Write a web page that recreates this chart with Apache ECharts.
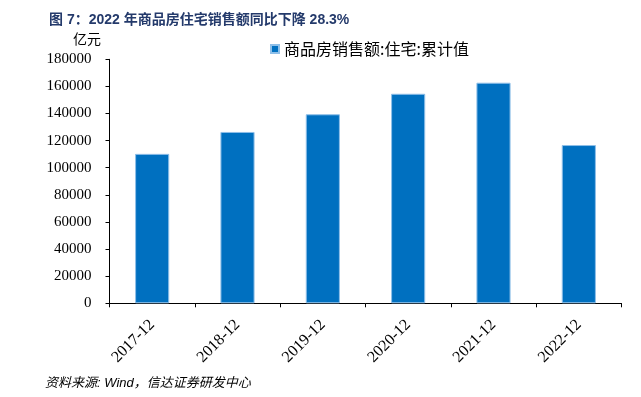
<!DOCTYPE html>
<html>
<head>
<meta charset="utf-8">
<script src="https://cdn.jsdelivr.net/npm/echarts@6/dist/echarts.min.js"></script>
<style>
html, body { margin: 0; padding: 0; background: #fff; }
#main { width: 641px; height: 397px; }
</style>
</head>
<body>
<div id="main"></div>
<script>
// 商品房销售额:住宅:累计值 (亿元)
let years = ['2017-12', '2018-12', '2019-12', '2020-12', '2021-12', '2022-12'];
let sales = [110239, 126393, 139440, 154567, 162730, 116747];
let yTicks = [0, 180000, 20000]; // min, max, interval

let chart = echarts.init(document.getElementById('main'), null, {renderer: 'canvas'});
let option = {
    animation: false,
    backgroundColor: '#fff',
    title: {
        text: '图 7：2022 年商品房住宅销售额同比下降 28.3%',
        left: 44,
        top: 8,
        textStyle: {
            color: '#243a6b',
            fontSize: 14,
            fontWeight: 'bold',
            fontFamily: 'Liberation Sans, Noto Sans CJK SC'
        }
    },
    graphic: [
        {
            type: 'text',
            left: 73,
            top: 32,
            style: {
                text: '亿元',
                fill: '#000',
                font: '14px "Noto Sans CJK SC"'
            }
        },
        {
            type: 'text',
            left: 45,
            top: 377,
            style: {
                text: '资料来源: Wind，信达证券研发中心',
                fill: '#000',
                font: 'italic 13px "Liberation Sans", "Noto Sans CJK SC"'
            }
        }
    ],
    legend: {
        left: 265,
        top: 36,
        itemWidth: 8,
        itemHeight: 8,
        icon: 'rect',
        textStyle: {
            fontSize: 16,
            color: '#000',
            fontFamily: 'Noto Sans CJK SC'
        },
        data: ['商品房销售额:住宅:累计值']
    },
    grid: {
        left: 109.5,
        right: 19.5,
        top: 59.3,
        bottom: 93.7,
        containLabel: false
    },
    xAxis: {
        type: 'category',
        data: years,
        axisLine: {lineStyle: {color: '#000', width: 1}},
        axisTick: {show: true, alignWithLabel: false, length: 4, lineStyle: {color: '#000'}},
        axisLabel: {
            rotate: 45,
            margin: 19,
            color: '#000',
            fontSize: 16,
            fontFamily: 'Liberation Serif'
        },
        splitLine: {show: false}
    },
    yAxis: {
        type: 'value',
        min: yTicks[0],
        max: yTicks[1],
        interval: yTicks[2],
        axisLine: {show: true, lineStyle: {color: '#000', width: 1}},
        axisTick: {show: true, length: 4, lineStyle: {color: '#000'}},
        axisLabel: {
            margin: 18,
            color: '#000',
            fontSize: 15,
            fontFamily: 'Liberation Serif',
            formatter: function (v) { return String(v); }
        },
        splitLine: {show: false}
    },
    series: [{
        name: '商品房销售额:住宅:累计值',
        type: 'bar',
        data: sales,
        barWidth: '40%',
        itemStyle: {
            color: '#0070C0',
            borderColor: '#8fbfe8',
            borderWidth: 1
        }
    }]
};
chart.setOption(option);
</script>
</body>
</html>
